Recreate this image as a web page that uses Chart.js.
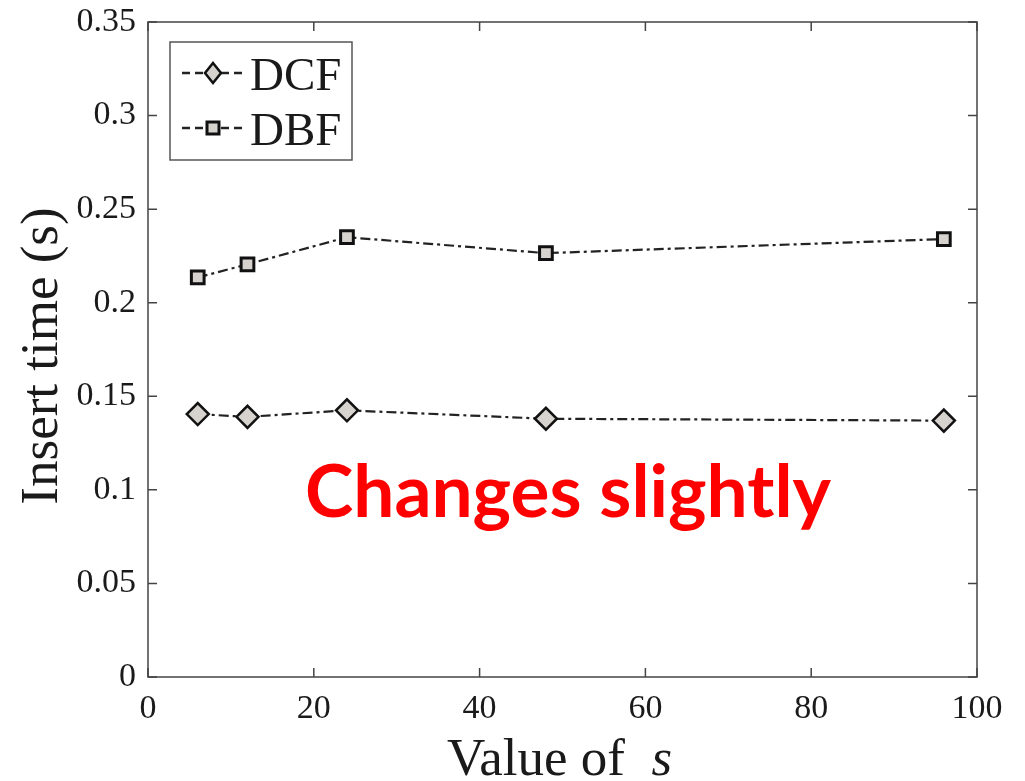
<!DOCTYPE html>
<html>
<head>
<meta charset="utf-8">
<script src="https://cdn.jsdelivr.net/npm/chart.js@4/dist/chart.umd.min.js"></script>
<style>
  html, body { margin: 0; padding: 0; background: #fff; }
  #chart { display: block; }
</style>
</head>
<body>
<canvas id="chart" width="1025" height="781"></canvas>
<script>
// data
const sValues = [6, 12, 24, 48, 96];
const dcfTimes = [0.1405, 0.139, 0.1425, 0.138, 0.137];
const dbfTimes = [0.2135, 0.2205, 0.235, 0.2265, 0.234];
const seriesNames = ['DCF', 'DBF'];
const xTicks = [0, 20, 40, 60, 80, 100];
const yTicks = [0, 0.05, 0.1, 0.15, 0.2, 0.25, 0.3, 0.35];

const serif = '"Liberation Serif", "Times New Roman", serif';
const inkColor = '#1a1a1a';
const frameColor = '#444';
const markerFill = '#d6d3ce';

const toPoints = (xs, ys) => xs.map((x, i) => ({ x: x, y: ys[i] }));

//frame, inside ticks, titles, legend and the red note
const decorations = {
    id: 'decorations',
    afterDraw(chart) {
        const ctx = chart.ctx;
        const area = chart.chartArea;
        const xs = chart.scales.x;
        const ys = chart.scales.y;

        ctx.save();
        ctx.strokeStyle = frameColor;
        ctx.lineWidth = 1.5;
        ctx.strokeRect(area.left, area.top, area.right - area.left, area.bottom - area.top);

        const tick = 9;
        ctx.beginPath();
        xTicks.forEach(v => {
            const px = xs.getPixelForValue(v);
            ctx.moveTo(px, area.bottom); ctx.lineTo(px, area.bottom - tick);
            ctx.moveTo(px, area.top); ctx.lineTo(px, area.top + tick);
        });
        yTicks.forEach(v => {
            const py = ys.getPixelForValue(v);
            ctx.moveTo(area.left, py); ctx.lineTo(area.left + tick, py);
            ctx.moveTo(area.right, py); ctx.lineTo(area.right - tick, py);
        });
        ctx.stroke();

        //axis titles
        ctx.fillStyle = inkColor;
        ctx.textBaseline = 'alphabetic';
        ctx.font = '53px ' + serif;
        const main = 'Value of  ';
        const mainW = ctx.measureText(main).width;
        ctx.font = 'italic 53px ' + serif;
        const sW = ctx.measureText('s').width;
        const startX = (area.left + area.right) / 2 - 3 - (mainW + sW) / 2;
        ctx.font = '53px ' + serif;
        ctx.textAlign = 'left';
        ctx.fillText(main, startX, 775);
        ctx.font = 'italic 53px ' + serif;
        ctx.fillText('s', startX + mainW, 775);

        ctx.save();
        ctx.translate(57, 356);
        ctx.rotate(-Math.PI / 2);
        ctx.font = '53px ' + serif;
        ctx.textAlign = 'center';
        ctx.fillText('Insert time (s)', 0, 0);
        ctx.restore();

        //legend
        const lx = 170, ly = 42, lw = 182, lh = 118;
        ctx.fillStyle = '#fff';
        ctx.fillRect(lx, ly, lw, lh);
        ctx.strokeStyle = '#555';
        ctx.lineWidth = 1.5;
        ctx.strokeRect(lx, ly, lw, lh);
        chart.data.datasets.forEach((ds, i) => {
            const cy = ly + 31 + i * 55;
            ctx.strokeStyle = ds.borderColor;
            ctx.lineWidth = 2.5;
            ctx.setLineDash([8, 5]);
            ctx.beginPath();
            ctx.moveTo(182, cy); ctx.lineTo(245, cy);
            ctx.stroke();
            ctx.setLineDash([]);
            ctx.fillStyle = markerFill;
            ctx.strokeStyle = '#111';
            ctx.lineWidth = ds.pointBorderWidth;
            ctx.beginPath();
            if (ds.pointStyle === 'rect') {
                ctx.rect(213 - 6, cy - 6, 12, 12);
            } else {
                ctx.moveTo(213, cy - 10); ctx.lineTo(221, cy); ctx.lineTo(213, cy + 10); ctx.lineTo(205, cy);
                ctx.closePath();
            }
            ctx.fill();
            ctx.stroke();
            ctx.fillStyle = inkColor;
            ctx.font = '47px ' + serif;
            ctx.textAlign = 'left';
            ctx.fillText(ds.label, 250, cy + 17);
        });

        //red note
        ctx.fillStyle = '#ff0000';
        ctx.font = 'bold 73px Lato, "Open Sans", sans-serif';
        ctx.textAlign = 'center';
        ctx.fillText('Changes slightly', 568, 517);
        ctx.restore();
    }
};

new Chart(document.querySelector('#chart'), {
    type: 'line',
    data: {
        datasets: [{
            label: seriesNames[0],
            data: toPoints(sValues, dcfTimes),
            borderColor: '#222',
            borderWidth: 2.2,
            borderDash: [10, 4, 3, 4],
            pointStyle: 'rectRot',
            pointRadius: 11,
            pointBackgroundColor: markerFill,
            pointBorderColor: '#111',
            pointBorderWidth: 2.5,
            tension: 0,
            fill: false
        }, {
            label: seriesNames[1],
            data: toPoints(sValues, dbfTimes),
            borderColor: '#222',
            borderWidth: 2.2,
            borderDash: [10, 4, 3, 4],
            pointStyle: 'rect',
            pointRadius: 9,
            pointBackgroundColor: markerFill,
            pointBorderColor: '#111',
            pointBorderWidth: 3,
            tension: 0,
            fill: false
        }]
    },
    options: {
        responsive: false,
        animation: false,
        devicePixelRatio: 1,
        layout: { padding: { left: 0, top: 22, right: 48, bottom: 0 } },
        plugins: {
            legend: { display: false },
            tooltip: { enabled: false }
        },
        scales: {
            x: {
                type: 'linear',
                min: 0,
                max: 100,
                afterBuildTicks: scale => { scale.ticks = xTicks.map(v => ({ value: v })); },
                afterFit: scale => {
                    scale.height = 104;
                    scale.paddingLeft = 0;
                    scale.paddingRight = 0;
                },
                grid: { display: false, drawTicks: false },
                border: { display: false },
                ticks: {
                    color: inkColor,
                    font: { family: serif, size: 34 },
                    padding: 12,
                    maxRotation: 0
                }
            },
            y: {
                type: 'linear',
                min: 0,
                max: 0.35,
                afterBuildTicks: scale => { scale.ticks = yTicks.map(v => ({ value: v })); },
                afterFit: scale => {
                    scale.width = 148;
                    scale.paddingTop = 0;
                    scale.paddingBottom = 0;
                },
                grid: { display: false, drawTicks: false },
                border: { display: false },
                ticks: {
                    color: inkColor,
                    font: { family: serif, size: 34 },
                    padding: 12,
                    callback: v => String(+v.toFixed(2))
                }
            }
        }
    },
    plugins: [decorations]
});
</script>
</body>
</html>
